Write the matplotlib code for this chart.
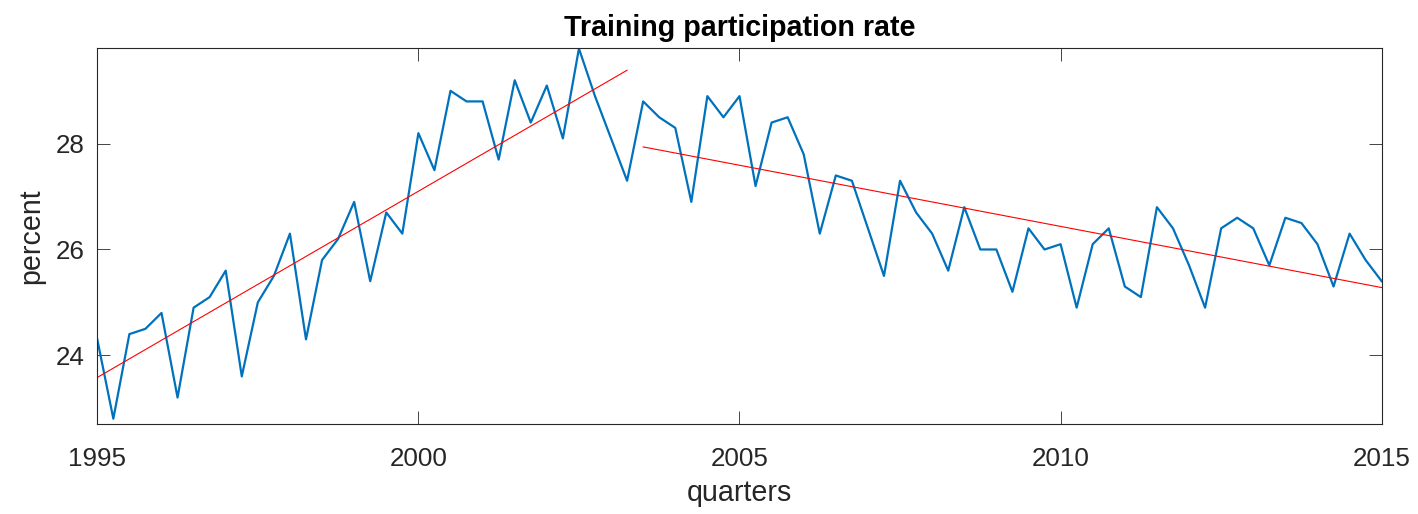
import numpy as np
import matplotlib
matplotlib.use('Agg')
import matplotlib.pyplot as plt

plt.rcParams['font.family'] = ['Liberation Sans', 'DejaVu Sans']

# quarterly observations, 1995Q1 .. 2015Q1
start_year = 1995.0
rate = [24.3, 22.8, 24.4, 24.5, 24.8, 23.2, 24.9, 25.1,
        25.6, 23.6, 25.0, 25.5, 26.3, 24.3, 25.8, 26.2,
        26.9, 25.4, 26.7, 26.3, 28.2, 27.5, 29.0, 28.8,
        28.8, 27.7, 29.2, 28.4, 29.1, 28.1, 29.8, 28.9,
        28.1, 27.3, 28.8, 28.5, 28.3, 26.9, 28.9, 28.5,
        28.9, 27.2, 28.4, 28.5, 27.8, 26.3, 27.4, 27.3,
        26.4, 25.5, 27.3, 26.7, 26.3, 25.6, 26.8, 26.0,
        26.0, 25.2, 26.4, 26.0, 26.1, 24.9, 26.1, 26.4,
        25.3, 25.1, 26.8, 26.4, 25.7, 24.9, 26.4, 26.6,
        26.4, 25.7, 26.6, 26.5, 26.1, 25.3, 26.3, 25.8,
        25.4]

# linear trend segments (start/end year, start/end value)
trend1_x = [1995.0, 2003.25]
trend1_y = [23.58, 29.39]
trend2_x = [2003.5, 2015.0]
trend2_y = [27.94, 25.28]

xticks = [1995, 2000, 2005, 2010, 2015]
yticks = [24, 26, 28]

t = start_year + 0.25 * np.arange(len(rate))

fig = plt.figure(figsize=(14.18, 5.14), dpi=100)
ax = fig.add_axes([0.0686, 0.1751, 0.9058, 0.7315])

ax.plot(t, rate, color='#0072BD', lw=1.6)
ax.plot(trend1_x, trend1_y, color='red', lw=0.8)
ax.plot(trend2_x, trend2_y, color='red', lw=0.8)

ax.set_xlim(1995, 2015)
ax.set_ylim(22.7, 29.81)
ax.set_xticks(xticks)
ax.set_yticks(yticks)

dark = '#262626'
ax.tick_params(direction='in', length=9.5, width=0.6, colors=dark,
               labelsize=18.7, top=True, right=True)
ax.tick_params(axis='x', pad=16.5)
ax.tick_params(axis='y', pad=9)
for s in ax.spines.values():
    s.set_color(dark)
    s.set_linewidth(0.8)

ax.set_xlabel('quarters', fontsize=20.6, color=dark, labelpad=6)
ax.set_ylabel('percent', fontsize=20.6, color=dark, labelpad=8)
ax.set_title('Training participation rate', fontsize=20.6,
             fontweight='bold', color='black', pad=8.5)

fig.savefig('out.png', dpi=100)
